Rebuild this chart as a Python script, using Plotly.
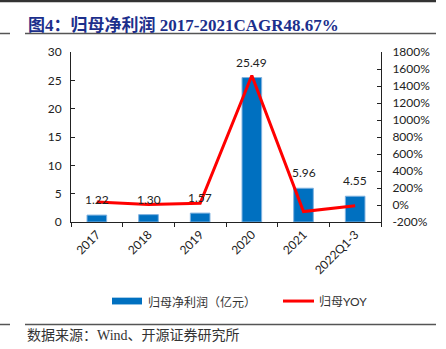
import plotly.graph_objects as go

# 归母净利润 (亿元) and YoY growth (%)
categories = ["2017", "2018", "2019", "2020", "2021", "2022Q1-3"]
net_profit = [1.22, 1.30, 1.57, 25.49, 5.96, 4.55]
yoy_pct = [35, 6.6, 20.8, 1524, -76.6, -8]

left_ticks = [0, 5, 10, 15, 20, 25, 30]
right_ticks = list(range(-200, 1801, 200))
right_tick_text = [f"{v}%" for v in right_ticks]

BAR_COLOR = "#0070C0"
LINE_COLOR = "#FF0000"
TICK_FONT = dict(family="Lato, Liberation Sans, Noto Sans CJK SC", size=12, color="#222")

fig = go.Figure()
fig.add_trace(go.Bar(
    x=categories, y=net_profit, name="归母净利润（亿元）",
    marker=dict(color=BAR_COLOR, line=dict(color="#7fb2e0", width=1)),
    width=0.38, showlegend=False,
))
fig.add_trace(go.Scatter(
    x=categories, y=yoy_pct, name="归母YOY", yaxis="y2", mode="lines",
    line=dict(color=LINE_COLOR, width=3), showlegend=False,
))

fig.update_layout(
    width=446, height=349,
    margin=dict(l=71, r=65, t=52, b=127),
    paper_bgcolor="white", plot_bgcolor="white",
    xaxis=dict(
        type="category", categoryorder="array", categoryarray=categories,
        showline=True, linecolor="#222", linewidth=1,
        ticks="outside", ticklen=4, tickcolor="#222", tickson="boundaries",
        tickangle=-45, tickfont=TICK_FONT, showgrid=False, zeroline=False,
    ),
    yaxis=dict(
        range=[0, 30], tickvals=left_ticks, showline=True, linecolor="#222",
        linewidth=1, ticks="inside", ticklen=4, tickcolor="#222",
        tickfont=TICK_FONT, showgrid=False, zeroline=False, ticklabelstandoff=6,
    ),
    yaxis2=dict(
        range=[-200, 1800], tickvals=right_ticks, ticktext=right_tick_text,
        overlaying="y", side="right", showline=True, linecolor="#222",
        linewidth=1, ticks="inside", ticklen=4, tickcolor="#222",
        tickfont=TICK_FONT, showgrid=False, zeroline=False, ticklabelstandoff=8,
    ),
)

# value labels above each bar (x given as category index)
annotations = [
    dict(x=i, y=v, xref="x", yref="y", text=f"{v:.2f}", showarrow=False,
         yanchor="bottom", yshift=6,
         font=dict(family="Lato, Liberation Sans", size=12, color="#222"))
    for i, v in enumerate(net_profit)
]

# legend drawn as swatches + labels below the plot
legend_y = -0.465
shapes = [
    dict(type="rect", xref="paper", yref="paper", x0=(112 - 71) / 310, x1=(142 - 71) / 310,
         y0=legend_y - 0.02, y1=legend_y + 0.02, fillcolor=BAR_COLOR, line=dict(width=0)),
    dict(type="line", xref="paper", yref="paper", x0=(283 - 71) / 310, x1=(314 - 71) / 310,
         y0=legend_y, y1=legend_y, line=dict(color=LINE_COLOR, width=3)),
]
annotations += [
    dict(xref="paper", yref="paper", x=(146 - 71) / 310, y=legend_y, xanchor="left", yanchor="middle",
         text="归母净利润（亿元）", showarrow=False,
         font=dict(family="Noto Sans CJK SC", size=12, color="#333")),
    dict(xref="paper", yref="paper", x=(317 - 71) / 310, y=legend_y, xanchor="left", yanchor="middle",
         text="归母YOY", showarrow=False,
         font=dict(family="Lato, Noto Sans CJK SC", size=12, color="#333")),
    # title
    dict(xref="paper", yref="paper", x=(26 - 71) / 310, y=(222 - 25) / 170, xanchor="left", yanchor="middle",
         text="<b>图4：归母净利润 2017-2021CAGR48.67%</b>", showarrow=False,
         font=dict(family="Liberation Serif, Noto Sans CJK SC", size=17, color="#1c2f8c")),
    # source note
    dict(xref="paper", yref="paper", x=(25 - 71) / 310, y=(222 - 335) / 170, xanchor="left", yanchor="middle",
         text="数据来源：Wind、开源证券研究所", showarrow=False,
         font=dict(family="Liberation Serif, Noto Sans CJK SC", size=14, color="#333")),
]

# page rules: top border, title underline, footer rule
def hline(x0, x1, y, width, color):
    return dict(type="line", xref="paper", yref="paper",
                x0=(x0 - 71) / 310, x1=(x1 - 71) / 310,
                y0=(222 - y) / 170, y1=(222 - y) / 170,
                line=dict(color=color, width=width))

shapes += [
    hline(0, 436, 1, 2.5, "#333"),
    hline(25, 436, 33.5, 1.5, "#555"),
    hline(0, 10, 33.5, 1.5, "#555"),
    hline(25, 436, 324.5, 1.5, "#555"),
    hline(0, 10, 324.5, 1.5, "#555"),
]

fig.update_layout(shapes=shapes, annotations=annotations)
fig.write_html("out.html")
